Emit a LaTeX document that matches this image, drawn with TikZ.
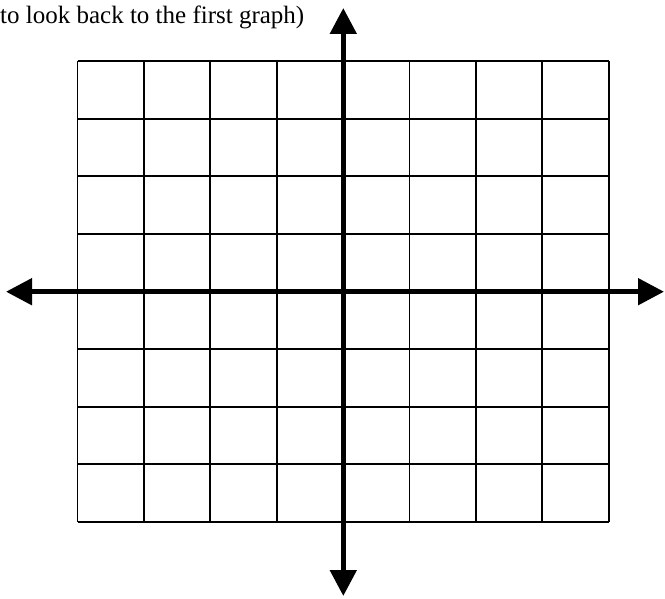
\documentclass[tikz,border=0pt]{standalone}
\usepackage{fontspec}
\setmainfont{Liberation Serif}
\usetikzlibrary{arrows.meta}
\begin{document}
\begin{tikzpicture}[x=1pt,y=-1pt,
  gridline/.style={line width=1.9pt,black},
  axisline/.style={line width=5pt,black,{Triangle[length=26pt,width=26pt]}-{Triangle[length=26pt,width=26pt]}}]
\useasboundingbox (0,0) rectangle (665,599);
\foreach \i in {0,...,8} {
  \draw[gridline] ({77.5+\i*66.4},61) -- ({77.5+\i*66.4},522);
  \draw[gridline] (77.5,{61+\i*57.625}) -- (608.7,{61+\i*57.625});
}
\coordinate (L) at (6,291.7);
\coordinate (R) at (664,291.7);
\coordinate (T) at (343.3,8);
\coordinate (B) at (343.3,596);
\draw[axisline] (L) -- (R);
\draw[axisline] (T) -- (B);
\node[anchor=base west,inner sep=0pt,font=\fontsize{25}{28}\selectfont] (txt) at (0,24) {to look back to the first graph)};
\end{tikzpicture}
\end{document}
